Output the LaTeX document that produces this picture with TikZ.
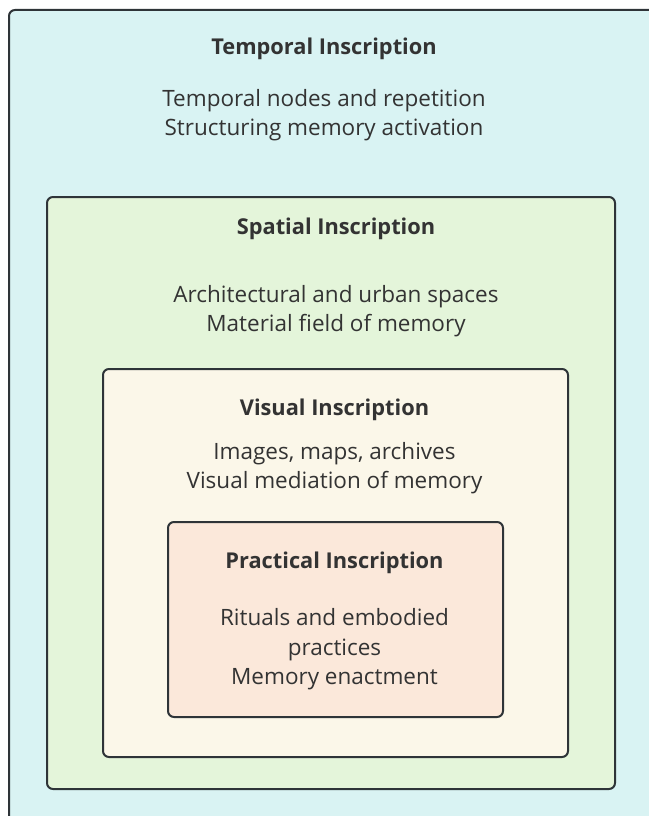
\documentclass[tikz,border=0pt]{standalone}
\usepackage{fontspec}
\setmainfont{Open Sans}
\usepackage{tikz}
\usetikzlibrary{positioning}
\definecolor{edge}{HTML}{2E3438}
\definecolor{ink}{HTML}{333333}
\definecolor{tempfill}{HTML}{D9F3F3}
\definecolor{spatfill}{HTML}{E4F5DA}
\definecolor{visfill}{HTML}{FBF7E9}
\definecolor{pracfill}{HTML}{FBE8DA}
\begin{document}
\begin{tikzpicture}[x=1pt,y=-1pt,
	layer/.style={draw=edge,line width=2pt,rounded corners=6pt,anchor=north west,inner sep=0pt},
	head/.style={text=ink,font=\fontsize{21.8}{30}\selectfont\bfseries},
	body/.style={text=ink,font=\fontsize{22.5}{29.5}\selectfont,align=center}]
	\useasboundingbox (0,0) rectangle (648,816);
	\node[layer,fill=tempfill,minimum width=660pt,minimum height=830pt] (temporal) at (8,9) {};
	\node[layer,fill=spatfill,minimum width=568pt,minimum height=592pt] (spatial) at (46,196) {};
	\node[layer,fill=visfill,minimum width=465pt,minimum height=388pt] (visual) at (102,368) {};
	\node[layer,fill=pracfill,minimum width=335pt,minimum height=195pt] (practical) at (167,521) {};
	\node[head] (temporalhead) at (324,49) {Temporal Inscription};
	\node[body] (temporaltext) at (324,115) {Temporal nodes and repetition\\Structuring memory activation};
	\node[head] (spatialhead) at (336,229) {Spatial Inscription};
	\node[body] (spatialtext) at (336,311) {Architectural and urban spaces\\Material field of memory};
	\node[head] (visualhead) at (334.5,410) {Visual Inscription};
	\node[body] (visualtext) at (334.5,468) {Images, maps, archives\\Visual mediation of memory};
	\node[head] (practicalhead) at (334.5,563) {Practical Inscription};
	\node[body] (practicaltext) at (334.5,649.5) {Rituals and embodied\\practices\\Memory enactment};
\end{tikzpicture}
\end{document}
